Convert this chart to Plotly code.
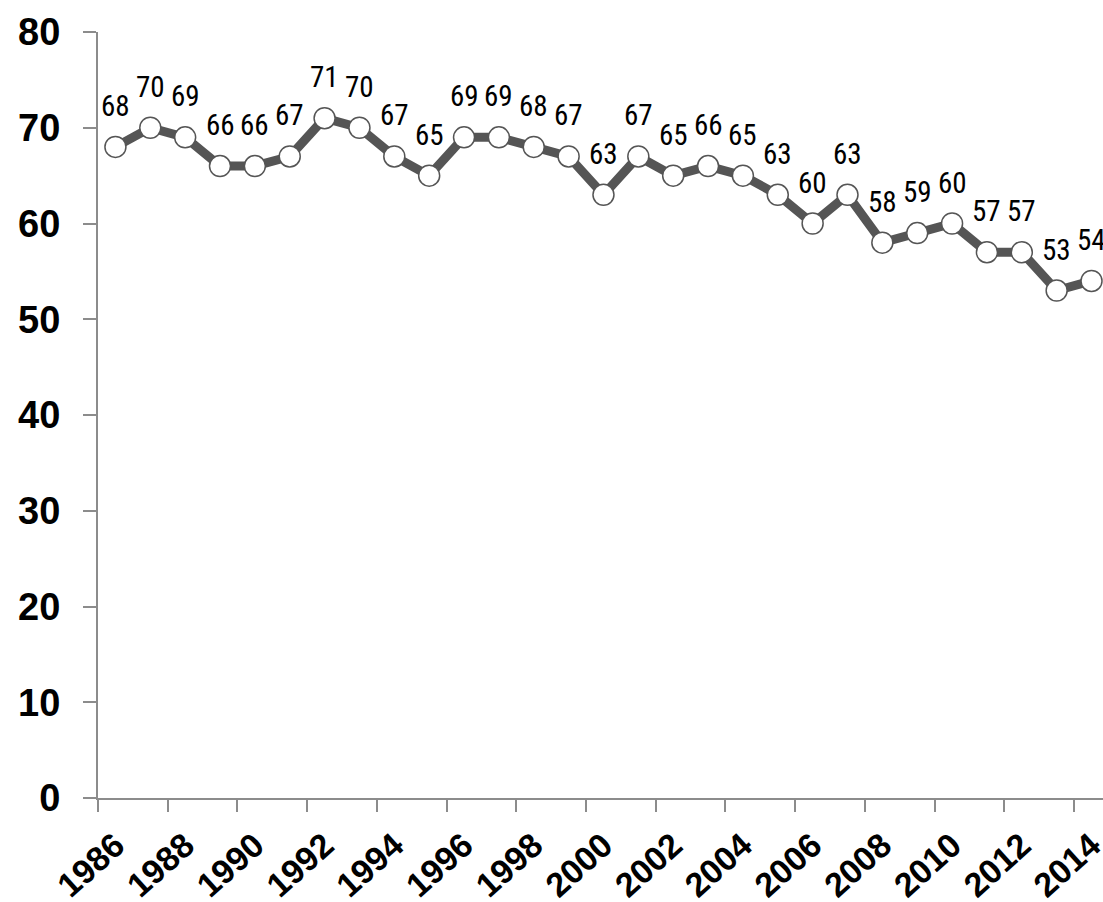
import plotly.graph_objects as go

years = list(range(1986, 2015))
values = [68, 70, 69, 66, 66, 67, 71, 70, 67, 65, 69, 69, 68, 67, 63,
          67, 65, 66, 65, 63, 60, 63, 58, 59, 60, 57, 57, 53, 54]
label_years = list(range(1986, 2015, 2))
y_ticks = [0, 10, 20, 30, 40, 50, 60, 70, 80]

W, H = 1103, 902
ml, mr, mt, mb = 98, 0, 32, 104
cat_px = 34.86
x_lo = years[0] - 0.5
x_hi = x_lo + (W - ml - mr) / cat_px

fig = go.Figure()
fig.add_trace(go.Scatter(
    x=years, y=values, mode="lines+markers",
    line=dict(color="#555555", width=9),
    marker=dict(size=21, color="white", line=dict(color="#555555", width=1.5)),
    hoverinfo="skip", showlegend=False, cliponaxis=False,
))
# invisible trace on overlay axis to host boundary tick marks
fig.add_trace(go.Scatter(x=[years[0]], y=[values[0]], xaxis="x2", mode="markers",
                         marker=dict(opacity=0), hoverinfo="skip", showlegend=False))

for yr, v in zip(years, values):
    fig.add_annotation(x=yr, y=v, text=str(v), showarrow=False, yshift=41,
                       font=dict(family="Liberation Sans Narrow, Roboto Condensed, DejaVu Sans Condensed, Arial Narrow",
                                 size=29, color="black"))

tick_font = dict(family="Liberation Sans, Arial", color="black", weight="bold")

fig.update_layout(
    width=W, height=H,
    margin=dict(l=ml, r=mr, t=mt, b=mb, autoexpand=False),
    paper_bgcolor="white", plot_bgcolor="white",
    xaxis=dict(range=[x_lo, x_hi], tickvals=label_years, ticktext=[str(y) for y in label_years],
               tickangle=-42, ticks="", showgrid=False, zeroline=False,
               showline=True, linecolor="#8c8c8c", linewidth=2,
               ticklabelstandoff=12, automargin=False, ticklabeloverflow="allow",
               tickfont=dict(size=34, **tick_font)),
    xaxis2=dict(range=[x_lo, x_hi], overlaying="x", side="bottom", anchor="y",
                tickvals=[y - 0.5 for y in label_years], ticks="outside", ticklen=13,
                tickcolor="#8c8c8c", tickwidth=2, showticklabels=False,
                showgrid=False, zeroline=False, showline=False),
    yaxis=dict(range=[0, 80], tickvals=y_ticks, ticks="outside", ticklen=13,
               tickcolor="#8c8c8c", tickwidth=2, showgrid=False, zeroline=False,
               showline=True, linecolor="#8c8c8c", linewidth=2,
               ticklabelstandoff=15, automargin=False, ticklabeloverflow="allow",
               tickfont=dict(size=38, **tick_font)),
)

fig.write_html("out.html", config={"displayModeBar": False},
               post_script="document.body.style.margin='0';document.body.style.overflow='hidden';")
